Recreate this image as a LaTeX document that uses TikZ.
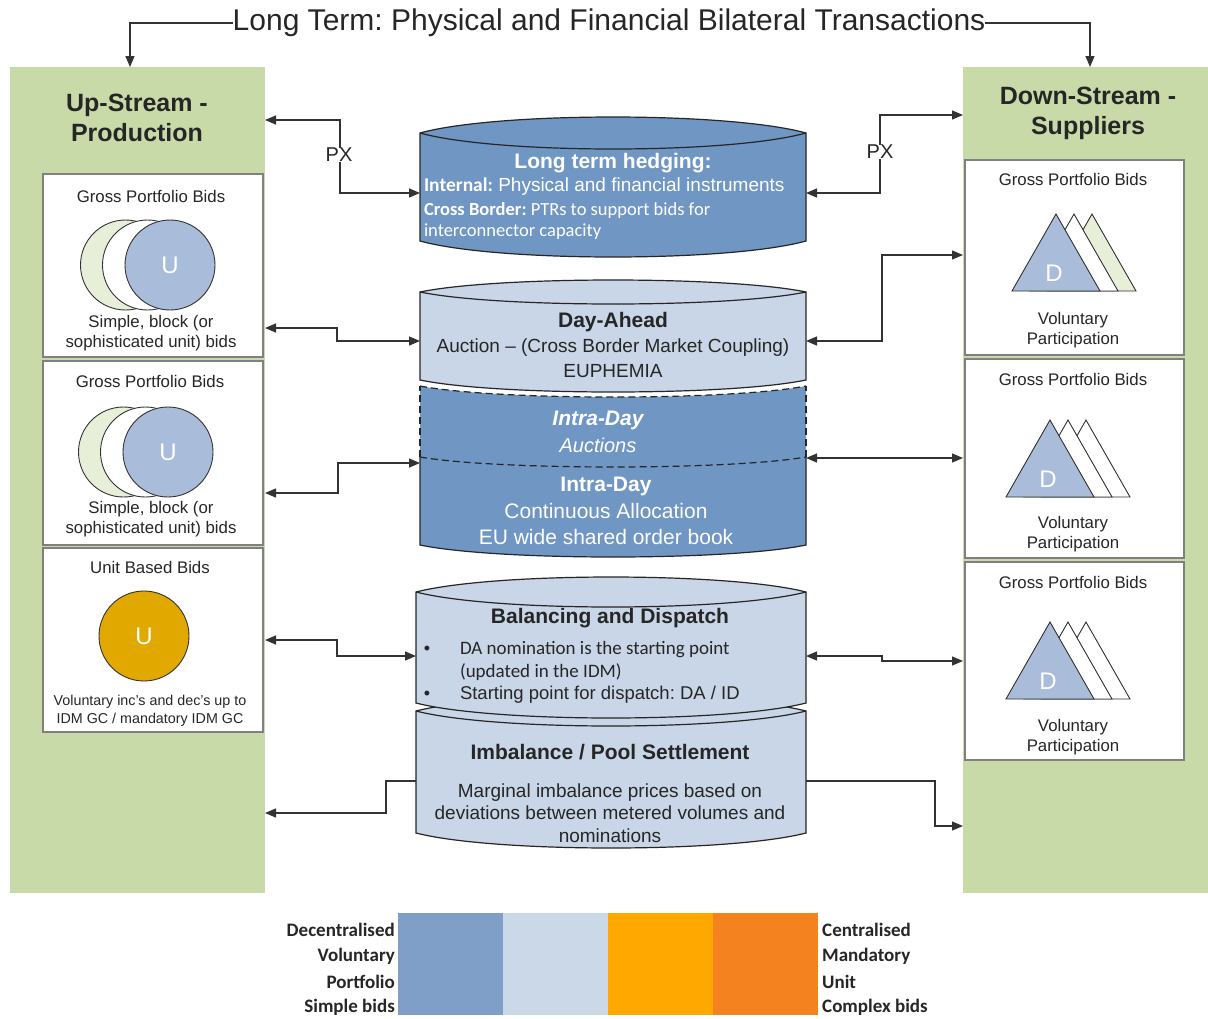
\documentclass[tikz,border=0pt]{standalone}
\usepackage{fontspec}
\setmainfont{Liberation Sans}
\newfontfamily\calfont{Carlito}
\usetikzlibrary{arrows.meta}
\frenchspacing
\definecolor{panelgreen}{HTML}{C9DAA9}
\definecolor{darkblue}{HTML}{7096C4}
\definecolor{lightblue}{HTML}{C9D6E8}
\definecolor{circblue}{HTML}{A9BCDA}
\definecolor{palegreen}{HTML}{E7EFD9}
\definecolor{gold}{HTML}{E1A900}
\definecolor{txt}{HTML}{262626}
\definecolor{boxgray}{HTML}{808080}
\definecolor{lineclr}{HTML}{333333}
\definecolor{legA}{HTML}{7F9FC8}
\definecolor{legB}{HTML}{CBD8E8}
\definecolor{legC}{HTML}{FFA900}
\definecolor{legD}{HTML}{F4831F}
\newcommand{\fsz}[2]{\fontsize{#1}{#2}\selectfont}
\tikzset{
  panel/.style={fill=panelgreen, draw=none, inner sep=0, outer sep=0, anchor=north west},
  bidbox/.style={draw=boxgray, line width=1.4pt, fill=white, inner sep=0, outer sep=0, anchor=north west},
  cyl/.style={draw=black!85, line width=1.2pt},
  conn/.style={draw=lineclr, line width=1.3pt},
  tipend/.style={-{Triangle[length=11pt,width=9pt]}},
  tipboth/.style={{Triangle[length=11pt,width=9pt]}-{Triangle[length=11pt,width=9pt]}},
  lbl/.style={inner sep=0, outer sep=0, text=txt, align=center},
  wlbl/.style={inner sep=0, outer sep=0, text=white, align=center},
  bodyname/.style={inner sep=0, outer sep=0, anchor=north west, draw=none},
  bigletter/.style={inner sep=0, text=white, font=\fsz{24}{28}},
  ucirc/.style={circle, draw=black!80, line width=0.9pt, minimum size=90pt, inner sep=0},
  tri/.style={draw=black!80, line width=0.9pt},
  legblock/.style={draw=none, inner sep=0, outer sep=0, minimum width=105pt, minimum height=102pt, anchor=north west},
  legtxt/.style={inner sep=0, text=txt, font=\calfont\bfseries\fsz{19}{22}},
}
% cylinder: L R T B d fill name
\newcommand{\cylbody}[7]{%
  \filldraw[cyl, fill=#6] (#1,#3) -- (#1,#4)
    .. controls ({#1+0.2*(#2-#1)},{#4+1.333*#5}) and ({#2-0.2*(#2-#1)},{#4+1.333*#5}) .. (#2,#4)
    -- (#2,#3)
    .. controls ({#2-0.2*(#2-#1)},{#3-1.333*#5}) and ({#1+0.2*(#2-#1)},{#3-1.333*#5}) .. (#1,#3) -- cycle;
  \draw[cyl] (#1,#3) .. controls ({#1+0.2*(#2-#1)},{#3+1.333*#5}) and ({#2-0.2*(#2-#1)},{#3+1.333*#5}) .. (#2,#3);
  \node[bodyname, minimum width={(#2-#1)*1pt}, minimum height={(#4-#3)*1pt}] (#7) at (#1,#3) {};
}
% triangles: apex x, apex y, back colour, name
\newcommand{\tris}[4]{%
  \filldraw[tri, fill=#3] ({#1+36-44},{#2+77}) -- ({#1+36},#2) -- ({#1+36+44},{#2+77}) -- cycle;
  \filldraw[tri, fill=white] ({#1+18-44},{#2+77}) -- ({#1+18},#2) -- ({#1+18+44},{#2+77}) -- cycle;
  \filldraw[tri, fill=circblue] ({#1-44},{#2+77}) -- (#1,#2) -- ({#1+44},{#2+77}) -- cycle;
  \node[bigletter] (#4) at ({#1-2},{#2+59}) {D};
}
\begin{document}
\begin{tikzpicture}[x=1pt,y=-1pt]
\useasboundingbox (0,0) rectangle (1208,1018);
\fill[white] (0,0) rectangle (1208,1018);

% ---------- panels ----------
\node[panel, minimum width=255pt, minimum height=826pt] (upP) at (10,67) {};
\node[panel, minimum width=245pt, minimum height=826pt] (dnP) at (963,67) {};
\node[lbl, font=\bfseries\fsz{25}{30}] (upT) at (137,118) {Up-Stream -\\Production};
\node[lbl, font=\bfseries\fsz{25}{30}] (dnT) at (1088,113) {Down-Stream -\\Suppliers};

% ---------- title ----------
\node[lbl, font=\fsz{30}{32}] (title) at (609,23) {Long Term: Physical and Financial Bilateral Transactions};
\draw[conn, tipend] (title.west) -| (upP.north -| 130,0);
\draw[conn, tipend] (title.east) -| (dnP.north -| 1090,0);

% ---------- left boxes ----------
\node[bidbox, minimum width=220pt, minimum height=183pt] (lb1) at (43,174) {};
\node[lbl, font=\fsz{16.8}{20}] (lb1t) at (151,196) {Gross Portfolio Bids};
\node[ucirc, fill=palegreen] (lb1c) at (125.5,265) {};
\node[ucirc, fill=white] (lb1b) at (147.5,265) {};
\node[ucirc, fill=circblue, text=white, font=\fsz{24}{28}] (lb1a) at (170,265) {U};
\node[lbl, font=\fsz{16.8}{20}] (lb1s) at (151,333) {Simple, block (or\\sophisticated unit) bids};

\node[bidbox, minimum width=220pt, minimum height=184pt] (lb2) at (43,361) {};
\node[lbl, font=\fsz{16.8}{20}] (lb2t) at (150,381) {Gross Portfolio Bids};
\node[ucirc, fill=palegreen] (lb2c) at (123.5,452) {};
\node[ucirc, fill=white] (lb2b) at (145.5,452) {};
\node[ucirc, fill=circblue, text=white, font=\fsz{24}{28}] (lb2a) at (168,452) {U};
\node[lbl, font=\fsz{16.8}{20}] (lb2s) at (151,519) {Simple, block (or\\sophisticated unit) bids};

\node[bidbox, minimum width=220pt, minimum height=184pt] (lb3) at (43,548) {};
\node[lbl, font=\fsz{16.8}{20}] (lb3t) at (150,567) {Unit Based Bids};
\node[ucirc, fill=gold, text=white, font=\fsz{24}{28}] (lb3a) at (144,636) {U};
\node[lbl, font=\fsz{14.3}{18}] (lb3s) at (150,711) {Voluntary inc's and dec's up to\\IDM GC / mandatory IDM GC};

% ---------- right boxes ----------
\node[bidbox, minimum width=219pt, minimum height=195pt] (rb1) at (965,160) {};
\node[lbl, font=\fsz{16.8}{20}] (rb1t) at (1073,179) {Gross Portfolio Bids};
\tris{1056}{214}{palegreen}{rb1d}
\node[lbl, font=\fsz{16.8}{20}] (rb1s) at (1073,330) {Voluntary\\Participation};

\node[bidbox, minimum width=219pt, minimum height=199pt] (rb2) at (965,359) {};
\node[lbl, font=\fsz{16.8}{20}] (rb2t) at (1073,379) {Gross Portfolio Bids};
\tris{1050}{420}{white}{rb2d}
\node[lbl, font=\fsz{16.8}{20}] (rb2s) at (1073,534) {Voluntary\\Participation};

\node[bidbox, minimum width=219pt, minimum height=198pt] (rb3) at (965,562) {};
\node[lbl, font=\fsz{16.8}{20}] (rb3t) at (1073,582) {Gross Portfolio Bids};
\tris{1050}{622}{white}{rb3d}
\node[lbl, font=\fsz{16.8}{20}] (rb3s) at (1073,737) {Voluntary\\Participation};

% ---------- cylinders ----------
\cylbody{420}{806}{133}{241}{16}{darkblue}{hedge}
\node[wlbl, font=\bfseries\fsz{21}{24}] (hedgeT) at (613,163) {Long term hedging:};
\node[wlbl, anchor=west, font=\fsz{19}{22}] (hedge1) at (424,187) {{\calfont\bfseries\fsz{19.5}{22}Internal:} Physical and financial instruments};
\node[wlbl, anchor=west, font=\calfont\fsz{18.5}{22}] (hedge2) at (424,210) {{\bfseries Cross Border:} PTRs to support bids for};
\node[wlbl, anchor=west, font=\calfont\fsz{18.5}{22}] (hedge3) at (424,232) {interconnector capacity};

% intra-day block
\fill[darkblue] (420,386) -- (420,545)
  .. controls (497,561) and (729,561) .. (806,545) -- (806,386)
  .. controls (729,400.7) and (497,400.7) .. (420,386) -- cycle;
\draw[cyl, dash pattern=on 7pt off 4pt] (420,386) .. controls (497,400.7) and (729,400.7) .. (806,386);
\draw[cyl, dash pattern=on 7pt off 4pt] (420,457) -- (420,386);
\draw[cyl, dash pattern=on 7pt off 4pt] (806,457) -- (806,386);
\draw[cyl, dash pattern=on 7pt off 4pt] (420,457) .. controls (497,470.3) and (729,470.3) .. (806,457);
\draw[cyl] (420,457) -- (420,545) .. controls (497,561) and (729,561) .. (806,545) -- (806,457);
\node[bodyname, minimum width=386pt, minimum height=159pt] (intra) at (420,386) {};
\node[wlbl, font=\bfseries\itshape\fsz{21}{24}] (idaT) at (598,420) {Intra-Day};
\node[wlbl, font=\itshape\fsz{20}{24}] (idaS) at (598,445) {Auctions};
\node[wlbl, font=\bfseries\fsz{21}{24}] (idcT) at (606,486) {Intra-Day};
\node[wlbl, font=\fsz{21}{26}] (idcS) at (606,524) {Continuous Allocation\\EU wide shared order book};

% day-ahead
\cylbody{420}{806}{292}{380}{12}{lightblue}{dayahead}
\node[lbl, font=\bfseries\fsz{21}{24}] (daT) at (613,322) {Day-Ahead};
\node[lbl, font=\fsz{19}{25}] (daS) at (613,358.5) {Auction -- (Cross Border Market Coupling)\\EUPHEMIA};

% imbalance
\cylbody{416}{806}{711}{833}{15}{lightblue}{imb}
\node[lbl, font=\bfseries\fsz{21}{24}] (imbT) at (610,752) {Imbalance / Pool Settlement};
\node[lbl, font=\fsz{19}{22.5}] (imbS) at (610,813) {Marginal imbalance prices based on\\deviations between metered volumes and\\nominations};

% balancing
\cylbody{416}{806}{592}{703}{15}{lightblue}{bal}
\node[lbl, font=\bfseries\fsz{21}{24}] (balT) at (610,618) {Balancing and Dispatch};
\node[lbl, font=\fsz{18}{20}] (bul1) at (427,650) {\textbullet};
\node[lbl, font=\fsz{18}{20}] (bul2) at (427,695) {\textbullet};
\node[lbl, anchor=west, font=\calfont\fsz{19}{22}] (bal1) at (460,650) {DA nomination is the starting point};
\node[lbl, anchor=west, font=\calfont\fsz{19}{22}] (bal2) at (460,672) {(updated in the IDM)};
\node[lbl, anchor=west, font=\fsz{18.5}{22}] (bal3) at (460,695) {Starting point for dispatch: DA / ID};

% ---------- connectors ----------
\node[lbl, font=\fsz{20}{24}] (pxL) at (339,155) {PX};
\node[lbl, font=\fsz{20}{24}] (pxR) at (880,152) {PX};
\draw[conn, tipend] (pxL.south -| 340,0) -- (340,193) -- (hedge.west |- 0,193);
\draw[conn, tipend] (pxL.north -| 340,0) -- (340,120) -- (upP.east |- 0,120);
\draw[conn, tipend] (pxR.south) -- (880,193) -- (hedge.east |- 0,193);
\draw[conn, tipend] (pxR.north) -- (880,115) -- (dnP.west |- 0,115);

\draw[conn, tipboth] (upP.east |- 0,328) -- (337,328) -- (337,341) -- (dayahead.west |- 0,341);
\draw[conn, tipboth] (dayahead.east |- 0,341) -- (882,341) -- (882,255) -- (dnP.west |- 0,255);
\draw[conn, tipboth] (upP.east |- 0,493) -- (338,493) -- (338,463) -- (intra.west |- 0,463);
\draw[conn, tipboth] (intra.east |- 0,458) -- (dnP.west |- 0,458);
\draw[conn, tipboth] (upP.east |- 0,640) -- (337,640) -- (337,656) -- (bal.west |- 0,656);
\draw[conn, tipboth] (bal.east |- 0,656) -- (882,656) -- (882,661) -- (dnP.west |- 0,661);
\draw[conn, tipend] (imb.west |- 0,781) -- (386,781) -- (386,813) -- (upP.east |- 0,813);
\draw[conn, tipend] (imb.east |- 0,781) -- (935,781) -- (935,826) -- (dnP.west |- 0,826);

% ---------- legend ----------
\node[legblock, fill=legA] (legA) at (398,913) {};
\node[legblock, fill=legB] (legB) at (503,913) {};
\node[legblock, fill=legC] (legC) at (608,913) {};
\node[legblock, fill=legD] (legD) at (713,913) {};
\node[legtxt, anchor=east] (l1) at (395,930) {Decentralised};
\node[legtxt, anchor=east] (l2) at (395,956) {Voluntary};
\node[legtxt, anchor=east] (l3) at (395,982) {Portfolio};
\node[legtxt, anchor=east] (l4) at (395,1007) {Simple bids};
\node[legtxt, anchor=west] (r1) at (822,930) {Centralised};
\node[legtxt, anchor=west] (r2) at (822,956) {Mandatory};
\node[legtxt, anchor=west] (r3) at (822,982) {Unit};
\node[legtxt, anchor=west] (r4) at (822,1007) {Complex bids};
\end{tikzpicture}
\end{document}
